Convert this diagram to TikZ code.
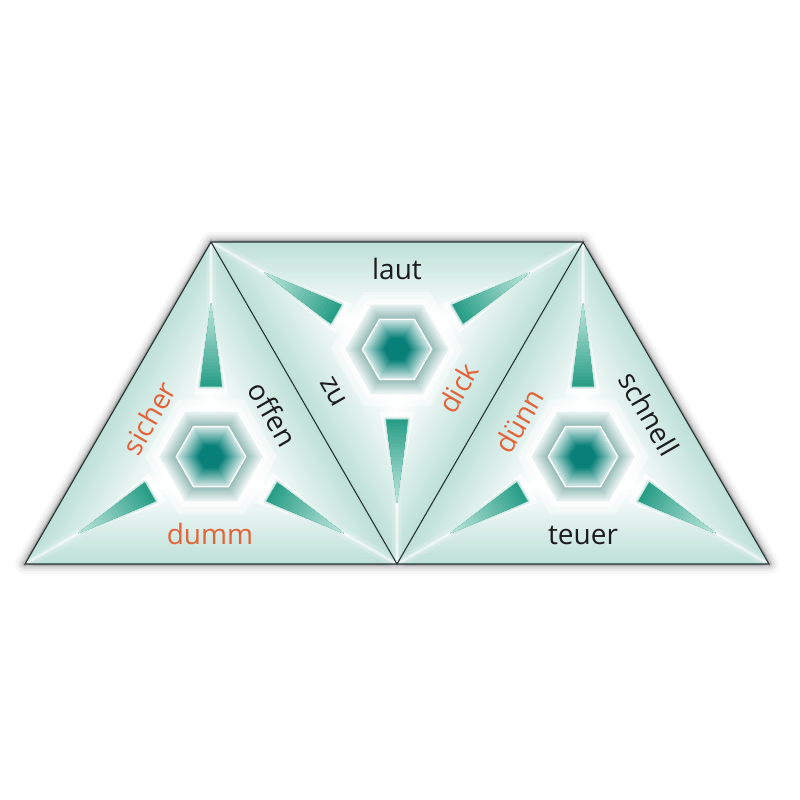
\documentclass[tikz,border=0pt]{standalone}
\usepackage{fontspec}
\setmainfont{Open Sans}
\usetikzlibrary{calc}
\definecolor{mint}{RGB}{190,224,217}
\definecolor{edgeline}{RGB}{40,52,52}
\definecolor{wdark}{RGB}{40,158,134}
\definecolor{wlight}{RGB}{190,230,220}
\definecolor{hexdark}{RGB}{8,128,120}
\definecolor{hexlight}{RGB}{204,228,226}
\definecolor{ringin}{RGB}{140,182,177}
\definecolor{ringout}{RGB}{236,245,244}
\definecolor{orangetxt}{RGB}{228,98,56}
\definecolor{blacktxt}{RGB}{28,28,28}
\tikzset{
  lbl/.style={inner sep=0pt, font=\fontsize{28}{30}\selectfont},
  edgestroke/.style={draw=edgeline, line width=1.1pt, line join=miter},
}
\newcommand\bgtri[2]{%
  \begin{scope}[shift={(#1)}, rotate=#2]
    \foreach \i in {0,...,50}{%
      \pgfmathsetmacro\s{1-\i/50}%
      \pgfmathsetmacro\p{max(0,min(100,(\s-0.28)/0.72*100))}%
      \fill[mint!\p!white] (90:{214.8*\s}) -- (210:{214.8*\s}) -- (330:{214.8*\s}) -- cycle;
    }
    \foreach \a in {90,210,330}{%
      \draw[white, line width=10pt, opacity=0.15] (0,0) -- (\a:214.8);
      \draw[white, line width=4pt, opacity=0.3] (0,0) -- (\a:214.8);
      \draw[white, line width=1.5pt, opacity=0.5] (0,0) -- (\a:214.8);
    }
  \end{scope}}
\newcommand\wedgeat[2]{%
  \begin{scope}[shift={(#1)}, rotate=#2]
    \fill[white, opacity=0.7] (160,0) -- (62,17) -- (62,-17) -- cycle;
    \draw[wdark!45!white, opacity=0.25, line width=5pt, line join=round] (150,0) -- (70,11) -- (70,-11) -- cycle;
    \draw[wdark!55!white, opacity=0.35, line width=2.5pt, line join=round] (150,0) -- (70,11) -- (70,-11) -- cycle;
    \foreach \i in {0,...,24}{%
      \pgfmathsetmacro\u{1-\i/24}%
      \pgfmathsetmacro\p{100*\u^1.1}%
      \fill[wdark!\p!wlight] (153,0) -- ({153-83*\u},{11*\u}) -- ({153-83*\u},{-11*\u}) -- cycle;
    }
  \end{scope}}
\newcommand\hexpath[1]{(0:#1) -- (60:#1) -- (120:#1) -- (180:#1) -- (240:#1) -- (300:#1) -- cycle}
\newcommand\hexat[1]{%
  \begin{scope}[shift={(#1)}]
    \fill[white, opacity=0.45] \hexpath{66};
    \fill[white, opacity=0.6] \hexpath{58};
    \fill[white] \hexpath{53.5};
    \foreach \i in {0,...,18}{%
      \pgfmathsetmacro\r{52-\i}%
      \pgfmathsetmacro\p{100*\i/18}%
      \fill[ringin!\p!ringout] \hexpath{\r};
    }
    \fill[white] \hexpath{35.5};
    \foreach \i in {0,...,33}{%
      \pgfmathsetmacro\r{33.8-\i}%
      \pgfmathsetmacro\p{min(100,100*\i/21)}%
      \fill[hexdark!\p!hexlight] \hexpath{\r};
    }
  \end{scope}}
\begin{document}
\begin{tikzpicture}[x=1pt,y=1pt]
\useasboundingbox (0,0) rectangle (800,800);
\fill[white] (0,0) rectangle (800,800);
\coordinate (A) at (25,236);
\coordinate (B) at (211,558);
\coordinate (C) at (397,236);
\coordinate (D) at (583,558);
\coordinate (E) at (769,236);
\coordinate (G1) at (211,343.3);
\coordinate (G2) at (397,450.7);
\coordinate (G3) at (583,343.3);
% shadow
\begin{scope}[shift={(1.5,-4)}]
  \foreach \w/\o in {20/0.03,15/0.04,11/0.06,7/0.09,4/0.13,2/0.16}{%
    \draw[black, opacity=\o, line width=\w pt, line join=round] (A) -- (B) -- (D) -- (E) -- cycle;
  }
\end{scope}
% backgrounds
\bgtri{G1}{0}
\bgtri{G2}{180}
\bgtri{G3}{0}
% wedges
\foreach \a in {90,210,330}{\wedgeat{G1}{\a}}
\foreach \a in {30,150,270}{\wedgeat{G2}{\a}}
\foreach \a in {90,210,330}{\wedgeat{G3}{\a}}
% hexagons
\hexat{G1}
\hexat{G2}
\hexat{G3}
% edges
\draw[edgestroke] (A) -- (B) -- (D) -- (E) -- cycle;
\draw[edgestroke] (B) -- (C) -- (D);
% labels
\node[lbl, text=blacktxt] (laut) at (397,531) {laut};
\node[lbl, text=blacktxt, rotate=-60] (zu) at (333,408) {zu};
\node[lbl, text=orangetxt, rotate=60] (dick) at (458,412) {dick};
\node[lbl, text=orangetxt, rotate=60] (sicher) at (149,382) {sicher};
\node[lbl, text=blacktxt, rotate=-60] (offen) at (273,386) {offen};
\node[lbl, text=orangetxt] (dumm) at (210,266) {dumm};
\node[lbl, text=orangetxt, rotate=60] (duenn) at (519,379) {dünn};
\node[lbl, text=blacktxt, rotate=-60] (schnell) at (649,386) {schnell};
\node[lbl, text=blacktxt] (teuer) at (583,265) {teuer};
\end{tikzpicture}
\end{document}
